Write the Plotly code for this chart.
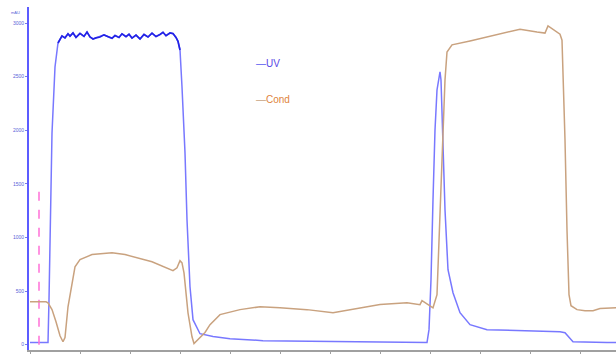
import plotly.graph_objects as go

# ---- data (volume in mL, UV in mAU, conductivity in mS/cm) ----
uv_x = [0.0, 1.0, 1.8, 1.9, 2.0, 2.2, 2.5, 2.7, 2.8,
        3.2, 3.5, 3.8, 4.0, 4.3, 4.6, 5.0, 5.4, 5.7, 6.0, 6.3, 6.6, 7.0, 7.4, 7.8, 8.2,
        8.5, 8.9, 9.2, 9.6, 9.9, 10.2, 10.6, 11.0, 11.4, 11.8, 12.2, 12.6, 13.0, 13.3,
        13.6, 14.0, 14.3, 14.6, 14.8, 15.0, 15.2, 15.5, 15.7, 16.0, 16.3, 16.8, 17.0,
        18.3, 20.0, 23.3, 30.0, 35.0, 39.7, 39.9, 40.1, 40.3, 40.5, 40.7, 40.9, 41.0,
        41.1, 41.3, 41.5, 41.8, 42.3, 43.0, 44.0, 45.7, 49.0, 53.0, 53.5, 53.7, 54.0,
        54.3, 57.7, 58.6]
uv_y = [19, 19, 19, 419, 1044, 1975, 2590, 2749, 2814,
        2880, 2862, 2900, 2878, 2908, 2866, 2904, 2876, 2916, 2870, 2852, 2862, 2870,
        2890, 2872, 2858, 2884, 2866, 2900, 2874, 2896, 2860, 2888, 2852, 2894, 2870,
        2906, 2874, 2894, 2914, 2882, 2908, 2902, 2866, 2830, 2749, 2404, 1789, 1165,
        540, 233, 140, 102, 75, 56, 37, 28, 19, 19, 140, 606, 1351, 2003, 2376, 2525,
        2544, 2469, 1910, 1258, 699, 484, 298, 186, 140, 130, 121, 112, 93, 56, 28, 19, 19]
plateau_start, plateau_end = 8, 44   # indices of the saturated UV plateau

cond_x = [0.0, 1.0, 1.6, 1.8, 2.2, 2.6, 3.0, 3.3, 3.5, 3.8, 4.2, 4.5, 5.0, 6.2, 8.2,
          9.5, 12.2, 14.3, 14.7, 15.0, 15.2, 15.4, 15.8, 16.2, 16.4, 16.8, 17.5, 18.0,
          19.0, 21.0, 23.0, 25.0, 27.7, 30.3, 32.3, 35.0, 37.7, 39.0, 39.2, 39.5, 39.8,
          40.3, 40.7, 41.0, 41.3, 41.5, 41.7, 42.2, 44.0, 45.7, 47.7, 49.0, 50.7, 51.5,
          51.8, 52.3, 53.0, 53.2, 53.3, 53.5, 53.7, 53.9, 54.1, 54.7, 55.5, 56.3, 57.0,
          57.8, 58.6]
cond_y = [12.0, 12.0, 12.0, 11.7, 9.8, 6.4, 2.5, 0.8, 2.0, 10.6, 17.6, 21.8, 23.8, 25.2,
          25.7, 25.2, 23.2, 20.7, 21.5, 23.5, 22.9, 20.1, 8.9, 2.2, 0.3, 1.4, 3.4, 5.6,
          8.4, 9.8, 10.6, 10.3, 9.8, 8.9, 9.8, 11.2, 11.7, 11.2, 12.3, 11.7, 11.2, 10.3,
          14.0, 34.9, 57.3, 74.1, 81.9, 83.9, 85.0, 86.1, 87.5, 88.3, 87.5, 87.2, 89.2,
          88.3, 86.9, 85.2, 76.9, 57.3, 32.1, 14.0, 10.9, 9.8, 9.5, 9.5, 10.1, 10.3, 10.3]

inject_x = [0.9, 0.9]
inject_y = [0, 1490]

y_ticks = [0, 500, 1000, 1500, 2000, 2500, 3000]
y_ticklabels = ["0", "500", "1000", "1500", "2000", "2500", "3000"]

UV_COLOR = "#7878ff"
UV_DARK = "#2323e6"
COND_COLOR = "#c9a27f"

fig = go.Figure()
fig.add_trace(go.Scatter(x=uv_x, y=uv_y, mode="lines", name="UV",
                         line=dict(color=UV_COLOR, width=1.5), showlegend=False))
fig.add_trace(go.Scatter(x=uv_x[plateau_start:plateau_end + 1],
                         y=uv_y[plateau_start:plateau_end + 1], mode="lines",
                         line=dict(color=UV_DARK, width=1.7), showlegend=False))
fig.add_trace(go.Scatter(x=cond_x, y=cond_y, mode="lines", name="Cond", yaxis="y2",
                         line=dict(color=COND_COLOR, width=1.5), showlegend=False))
fig.add_trace(go.Scatter(x=inject_x, y=inject_y, mode="lines",
                         line=dict(color="#ff70d8", width=1.5, dash="dash"),
                         showlegend=False))

fig.update_layout(
    width=616, height=354,
    margin=dict(l=29, r=0, t=7, b=4, autoexpand=False),
    paper_bgcolor="white", plot_bgcolor="white",
    xaxis=dict(range=[-0.1, 58.6], showgrid=False, zeroline=False, automargin=False,
               showline=True, linecolor="#a0a0a0", linewidth=2,
               ticks="outside", ticklen=2, tickcolor="#a0a0a0",
               showticklabels=False, dtick=5),
    yaxis=dict(range=[-50, 3150], showgrid=False, zeroline=False, automargin=False,
               showline=True, linecolor="#5c5cff", linewidth=2,
               tickvals=y_ticks, ticktext=y_ticklabels,
               ticks="outside", ticklen=2, tickcolor="#7a7ae8",
               tickfont=dict(size=5, color="#5a64d8", family="Arial")),
    yaxis2=dict(range=[-1.5, 94.5], overlaying="y", side="right", automargin=False,
                visible=False, showgrid=False, zeroline=False),
    annotations=[
        dict(xref="paper", yref="paper", x=-0.012, y=0.983, text="mAU",
             showarrow=False, xanchor="right", yanchor="middle",
             font=dict(size=4, color="#5a64d8", family="Arial")),
        dict(xref="paper", yref="paper", x=0.383, y=0.834,
             text="<span style='color:#5a5af0'>—</span>UV", showarrow=False,
             xanchor="left", yanchor="middle",
             font=dict(size=10, color="#5848e6", family="Arial")),
        dict(xref="paper", yref="paper", x=0.383, y=0.729,
             text="<span style='color:#c9a27f'>—</span>Cond", showarrow=False,
             xanchor="left", yanchor="middle",
             font=dict(size=10, color="#e0843c", family="Arial")),
    ],
)

fig.write_html("out.html", config={"displayModeBar": False},
               post_script="document.body.style.margin='0';document.body.style.overflow='hidden';")
